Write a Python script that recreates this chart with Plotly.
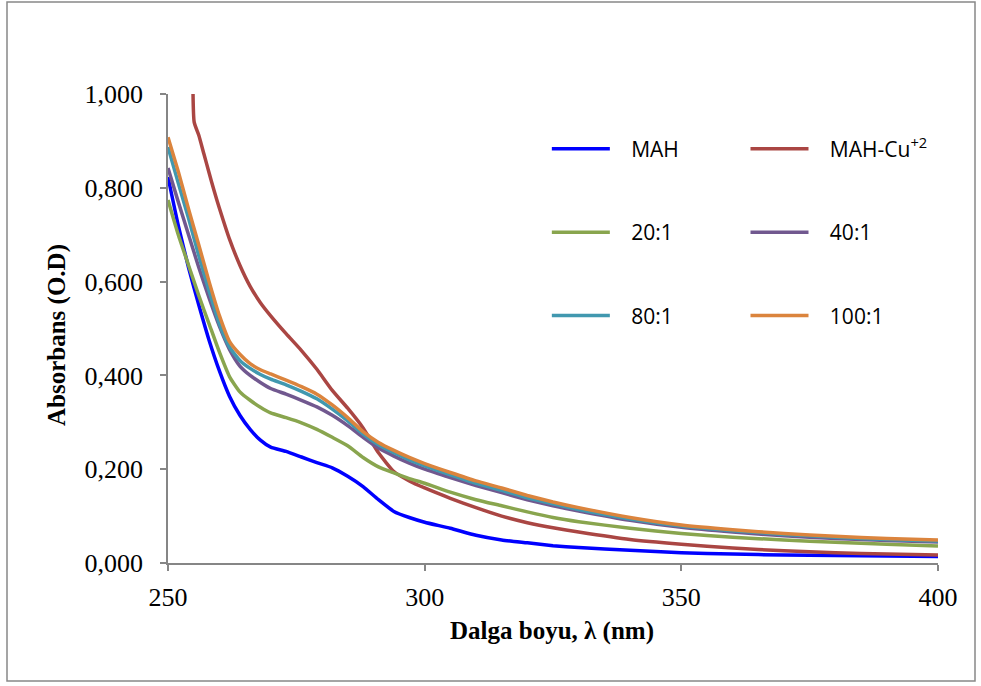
import plotly.graph_objects as go

# Wavelength grid (nm)
wl = [250, 252, 254, 256, 258, 260, 262, 264, 266, 268, 270, 273, 276, 279, 282, 285, 288,
      291, 294, 297, 300, 305, 310, 315, 320, 325, 330, 340, 350, 360, 370, 380, 390, 400]

mah = [0.823, 0.72, 0.63, 0.55, 0.475, 0.41, 0.355, 0.315, 0.285, 0.262, 0.247, 0.238, 0.226,
       0.214, 0.203, 0.185, 0.163, 0.135, 0.11, 0.097, 0.087, 0.074, 0.059, 0.049, 0.043,
       0.037, 0.033, 0.027, 0.022, 0.019, 0.017, 0.016, 0.015, 0.014]

r20 = [0.774, 0.70, 0.635, 0.57, 0.51, 0.45, 0.397, 0.365, 0.347, 0.332, 0.32, 0.31, 0.299,
       0.285, 0.268, 0.25, 0.225, 0.205, 0.192, 0.18, 0.17, 0.151, 0.135, 0.122, 0.109,
       0.097, 0.088, 0.074, 0.063, 0.055, 0.049, 0.044, 0.040, 0.036]

r40 = [0.842, 0.77, 0.70, 0.63, 0.565, 0.505, 0.455, 0.42, 0.40, 0.385, 0.372, 0.36, 0.347,
       0.333, 0.315, 0.293, 0.268, 0.245, 0.228, 0.213, 0.20, 0.182, 0.165, 0.15, 0.135,
       0.122, 0.111, 0.091, 0.076, 0.066, 0.058, 0.052, 0.048, 0.045]

r80 = [0.887, 0.81, 0.735, 0.655, 0.58, 0.51, 0.46, 0.432, 0.415, 0.402, 0.392, 0.38, 0.366,
       0.35, 0.328, 0.303, 0.275, 0.252, 0.235, 0.22, 0.207, 0.188, 0.17, 0.155, 0.139,
       0.126, 0.114, 0.094, 0.079, 0.069, 0.061, 0.055, 0.050, 0.047]

r100 = [0.908, 0.835, 0.755, 0.678, 0.60, 0.528, 0.472, 0.445, 0.425, 0.412, 0.403, 0.39, 0.376,
        0.36, 0.337, 0.31, 0.28, 0.257, 0.24, 0.225, 0.212, 0.193, 0.175, 0.16, 0.144,
        0.13, 0.118, 0.097, 0.081, 0.071, 0.063, 0.057, 0.052, 0.049]

# MAH-Cu+2 rises off-scale near 255 nm
wl_cu = [254.8, 255.1, 256, 257, 258, 259, 260, 262, 264, 266, 268, 270, 273, 276, 279, 282,
         285, 288, 291, 294, 297, 300, 305, 310, 315, 320, 325, 330, 340, 350, 360, 370, 380,
         390, 400]
cu = [1.15, 0.94, 0.912, 0.872, 0.832, 0.793, 0.757, 0.69, 0.635, 0.59, 0.555, 0.527, 0.489,
      0.453, 0.413, 0.368, 0.33, 0.288, 0.235, 0.195, 0.175, 0.16, 0.138, 0.118, 0.1, 0.086,
      0.075, 0.066, 0.05, 0.04, 0.032, 0.026, 0.022, 0.019, 0.017]

x_ticks = [250, 300, 350, 400]
y_ticks = [0, 0.2, 0.4, 0.6, 0.8, 1.0]

pad = "\u00a0\u00a0\u00a0"
series = [
    ("MAH", wl, mah, "#0000FF", "legend"),
    ("MAH-Cu<sup>+2</sup>", wl_cu, cu, "#AA4643", "legend2"),
    ("20:1", wl, r20, "#89A54E", "legend"),
    ("40:1", wl, r40, "#71588F", "legend2"),
    ("80:1", wl, r80, "#4198AF", "legend"),
    ("100:1", wl, r100, "#DB843D", "legend2"),
]

fig = go.Figure()
for i, (name, xs, ys, col, lg) in enumerate(series):
    fig.add_trace(go.Scatter(x=xs, y=ys, mode="lines", name=pad + name,
                             line=dict(color=col, width=3.5, shape="spline", smoothing=0.5),
                             legend=lg, legendgroup="g%d" % i))

L, R, T, B = 168, 938, 94, 563
W, H = 981, 686
axis_col = "#868686"

leg_common = dict(font=dict(family="Open Sans", size=21, color="black"),
                  bgcolor="rgba(0,0,0,0)", borderwidth=0, tracegroupgap=53,
                  itemwidth=58, xanchor="left", yanchor="top", orientation="v")

fig.update_layout(
    width=W, height=H,
    margin=dict(l=L, r=W - R, t=T, b=H - B),
    paper_bgcolor="white", plot_bgcolor="white",
    separators=", ",
    showlegend=True,
    legend=dict(x=0.492, y=0.926, **leg_common),
    legend2=dict(x=0.750, y=0.926, **leg_common),
    xaxis=dict(range=[250, 400], tickvals=x_ticks, ticktext=[str(v) for v in x_ticks],
               showgrid=False, zeroline=False, showline=True, linecolor=axis_col,
               linewidth=1.5, ticks="outside", ticklen=6, tickcolor=axis_col, tickwidth=1.5,
               tickfont=dict(family="Liberation Serif", size=26, color="black"),
               ticklabelstandoff=4),
    yaxis=dict(range=[0, 1.0], tickvals=y_ticks, tickformat=".3f",
               showgrid=False, zeroline=False, showline=True, linecolor=axis_col,
               linewidth=1.5, ticks="outside", ticklen=6, tickcolor=axis_col, tickwidth=1.5,
               tickfont=dict(family="Liberation Serif", size=26, color="black"),
               ticklabelstandoff=12),
)

# Axis titles
fig.add_annotation(text="<b>Dalga boyu, λ (nm)</b>", xref="paper", yref="paper",
                   x=(552 - L) / (R - L), y=(B - 631) / (B - T), showarrow=False,
                   xanchor="center", yanchor="middle",
                   font=dict(family="Liberation Serif", size=25, color="black"))
fig.add_annotation(text="<b>Absorbans (O.D)</b>", xref="paper", yref="paper",
                   x=(57 - L) / (R - L), y=(B - 335) / (B - T), showarrow=False,
                   textangle=-90, xanchor="center", yanchor="middle",
                   font=dict(family="Liberation Serif", size=25, color="black"))

# Outer chart border
fig.add_shape(type="rect", xref="paper", yref="paper",
              x0=(7 - L) / (R - L), x1=(975 - L) / (R - L),
              y0=(B - 681) / (B - T), y1=(B - 2) / (B - T),
              line=dict(color="#888888", width=1.5), fillcolor="rgba(0,0,0,0)", layer="below")

fig.write_html("out.html")
